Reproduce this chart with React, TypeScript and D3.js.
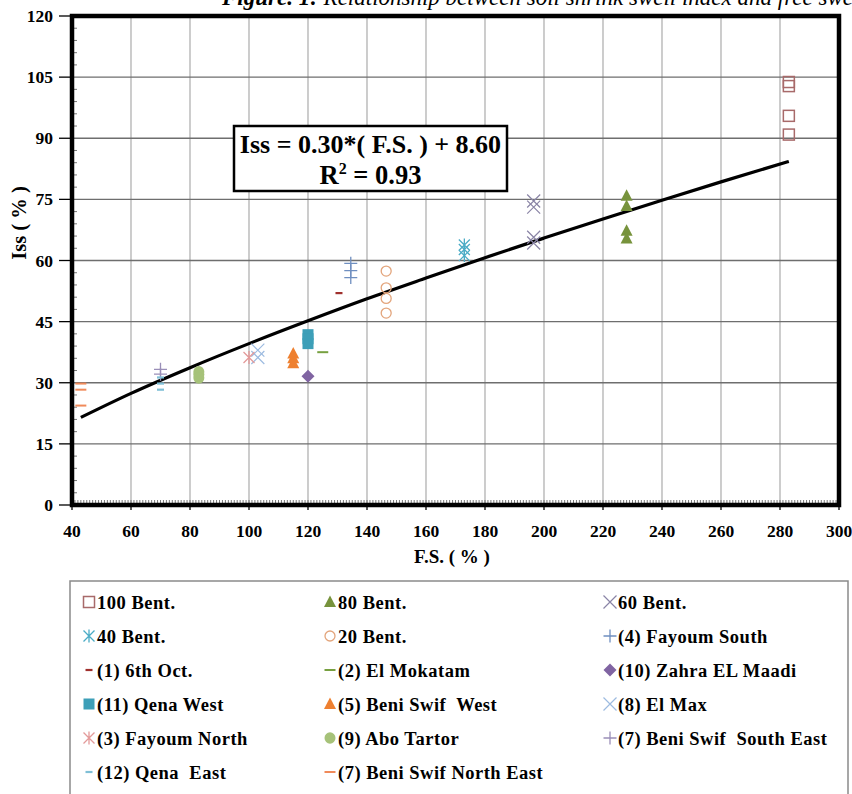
import React from "react";
import * as d3 from "d3";

// ---------- data ----------
const xTicks = [40, 60, 80, 100, 120, 140, 160, 180, 200, 220, 240, 260, 280, 300];
const yTicks = [0, 15, 30, 45, 60, 75, 90, 105, 120];

const bent100 = [[283, 103.8], [283, 102.8], [283, 95.5], [283, 90.9]];
const bent80 = [[228, 75.9], [228, 73.4], [228, 67.3], [228, 65.4]];
const bent60 = [[196.5, 74.6], [196.5, 73.1], [196.5, 65.7], [196.5, 64.3]];
const bent40 = [[173, 63.8], [173, 62.7], [173, 61.2]];
const bent20 = [[146.5, 57.4], [146.5, 53.3], [146.5, 50.7], [146.5, 47.1]];
const fayoumSouth = [[134.5, 59.3], [134.5, 57.5], [134.5, 55.8]];
const oct6 = [[130.5, 52]];
const elMokatam = [[125, 37.5]];
const zahraMaadi = [[120, 31.6]];
const qenaWest = [[120, 41.8], [120, 40.8], [120, 39.6]];
const beniSwifWest = [[115, 37.2], [115, 36], [115, 34.8]];
const elMax = [[103, 38], [103, 36.2]];
const fayoumNorth = [[100, 36.2]];
const aboTartor = [[83, 32.7], [83, 32], [83, 31.2]];
const beniSwifSE = [[70, 33.3], [70, 32.1]];
const qenaEast = [[70, 31.3], [70, 29.8], [70, 28.3]];
const beniSwifNE = [[43, 29.8], [43, 28.3], [43, 24.4]];

const trendX = [43, 60, 80, 100, 120, 140, 160, 180, 200, 220, 240, 260, 283];
const trendY = [21.5, 27.4, 33.7, 39.6, 45.2, 50.6, 55.7, 60.7, 65.5, 70.2, 74.8, 79.3, 84.3];

const seriesLabels = [
  "100 Bent.", "80 Bent.", "60 Bent.",
  "40 Bent.", "20 Bent.", "(4) Fayoum South",
  "(1) 6th Oct.", "(2) El Mokatam", "(10) Zahra EL Maadi",
  "(11) Qena West", "(5) Beni Swif  West", "(8) El Max",
  "(3) Fayoum North", "(9) Abo Tartor", "(7) Beni Swif  South East",
  "(12) Qena  East", "(7) Beni Swif North East",
];
const seriesData = [
  bent100, bent80, bent60,
  bent40, bent20, fayoumSouth,
  oct6, elMokatam, zahraMaadi,
  qenaWest, beniSwifWest, elMax,
  fayoumNorth, aboTartor, beniSwifSE,
  qenaEast, beniSwifNE,
];

// ---------- styles ----------
const seriesStyle = [
  { m: "squareOpen", c: "#a86a6a" },
  { m: "triangle", c: "#77933c" },
  { m: "x", c: "#8a84a6" },
  { m: "asterisk", c: "#4bacc6" },
  { m: "circleOpen", c: "#e3a57c" },
  { m: "plus", c: "#6f8fc0" },
  { m: "dashShort", c: "#a0302d" },
  { m: "dash", c: "#77a040" },
  { m: "diamond", c: "#8064a2" },
  { m: "square", c: "#3d9fb8" },
  { m: "triangle", c: "#ee8030" },
  { m: "x", c: "#9dbbe0" },
  { m: "asterisk", c: "#e39a9a" },
  { m: "circle", c: "#a6c279" },
  { m: "plus", c: "#9a8fb8" },
  { m: "dashShort", c: "#7fbfd6" },
  { m: "dash", c: "#f08a5a" },
];

const W = 852, H = 794;
const L = 72, R = 839, T = 16, B = 505;
const FONT = "'Liberation Serif', 'Times New Roman', serif";

function Marker({ m, c, x, y }: { m: string; c: string; x: number; y: number }) {
  const s = 5.5;
  switch (m) {
    case "squareOpen":
      return <rect x={x - 5.5} y={y - 5.5} width={11} height={11} fill="none" stroke={c} strokeWidth={1.5} />;
    case "square":
      return <rect x={x - 5.5} y={y - 5.5} width={11} height={11} fill={c} />;
    case "triangle":
      return <path d={`M${x},${y - 6.5}L${x + 6},${y + 5}L${x - 6},${y + 5}Z`} fill={c} />;
    case "diamond":
      return <path d={`M${x},${y - 6.5}L${x + 6.5},${y}L${x},${y + 6.5}L${x - 6.5},${y}Z`} fill={c} />;
    case "circle":
      return <ellipse cx={x} cy={y} rx={5.5} ry={5.8} fill={c} />;
    case "circleOpen":
      return <circle cx={x} cy={y} r={5} fill="none" stroke={c} strokeWidth={1.3} />;
    case "x":
      return (
        <path d={`M${x - s - 1},${y - s - 1}L${x + s + 1},${y + s + 1}M${x + s + 1},${y - s - 1}L${x - s - 1},${y + s + 1}`} stroke={c} strokeWidth={1.2} fill="none" />
      );
    case "asterisk":
      return (
        <path d={`M${x - s},${y - s}L${x + s},${y + s}M${x + s},${y - s}L${x - s},${y + s}M${x},${y - s - 1}L${x},${y + s + 1}`} stroke={c} strokeWidth={1.3} fill="none" />
      );
    case "plus":
      return (
        <path d={`M${x - s - 1},${y}L${x + s + 1},${y}M${x},${y - s - 1}L${x},${y + s + 1}`} stroke={c} strokeWidth={1.3} fill="none" />
      );
    case "dash":
      return <path d={`M${x - 5.5},${y}L${x + 5.5},${y}`} stroke={c} strokeWidth={2} />;
    case "dashShort":
      return <path d={`M${x - 3.5},${y}L${x + 3.5},${y}`} stroke={c} strokeWidth={2.2} />;
    default:
      return null;
  }
}

export default function App() {
  const xs = d3.scaleLinear().domain([40, 300]).range([L, R]);
  const ys = d3.scaleLinear().domain([0, 120]).range([B, T]);

  const line = d3
    .line<number>()
    .x((_, i) => xs(trendX[i]))
    .y((d) => ys(d))
    .curve(d3.curveMonotoneX);

  const xMinor = d3.range(40, 301, 1);
  const yMinor = d3.range(0, 121, 3).filter((v) => v % 15 !== 0);

  const legCols = [89, 330, 610];
  const legRows = [602, 636, 670, 704, 738, 772];

  return (
    <svg width={W} height={H} style={{ position: "absolute", left: 0, top: 0, background: "white" }} fontFamily={FONT}>
      <rect x={0} y={0} width={W} height={H} fill="white" />
      {/* title, clipped at the top edge as in the source */}
      <text x={222} y={4.5} fontSize={23} fontStyle="italic" fill="#000">
        <tspan fontWeight="bold">Figure. 1:</tspan>
        <tspan> Relationship between soil shrink swell index and free swell</tspan>
      </text>

      {/* vertical grid */}
      {xTicks.slice(1, -1).map((t) => (
        <line key={"vx" + t} x1={xs(t)} x2={xs(t)} y1={T} y2={B} stroke="#ababab" strokeWidth={1.2} />
      ))}
      {/* horizontal grid */}
      {yTicks.slice(1, -1).map((t) => (
        <line key={"hy" + t} x1={L} x2={R} y1={ys(t)} y2={ys(t)} stroke="#6e6e6e" strokeWidth={1.4} />
      ))}

      {/* minor ticks */}
      {xMinor.map((t) => (
        <line key={"mx" + t} x1={xs(t)} x2={xs(t)} y1={B} y2={B - 5} stroke="#555" strokeWidth={0.8} />
      ))}
      {yMinor.map((t) => (
        <line key={"my" + t} x1={L} x2={L + 5} y1={ys(t)} y2={ys(t)} stroke="#555" strokeWidth={0.8} />
      ))}

      {/* major ticks */}
      {yTicks.map((t) => (
        <line key={"ty" + t} x1={L - 13} x2={L} y1={ys(t)} y2={ys(t)} stroke="#000" strokeWidth={1.3} />
      ))}
      {xTicks.map((t) => (
        <line key={"tx" + t} x1={xs(t)} x2={xs(t)} y1={B} y2={B + 5} stroke="#000" strokeWidth={1.3} />
      ))}

      {/* frame */}
      <rect x={L} y={T} width={R - L} height={B - T} fill="none" stroke="#000" strokeWidth={4.5} />

      {/* tick labels */}
      {yTicks.map((t) => (
        <text key={"ly" + t} x={53} y={ys(t) + 6} fontSize={17.5} fontWeight="bold" textAnchor="end">
          {t}
        </text>
      ))}
      {xTicks.map((t) => (
        <text key={"lx" + t} x={xs(t)} y={537} fontSize={17.5} fontWeight="bold" textAnchor="middle">
          {t}
        </text>
      ))}

      {/* axis titles */}
      <text x={452} y={563} fontSize={19} fontWeight="bold" textAnchor="middle" style={{ whiteSpace: "pre" }}>
        F.S. ( % )
      </text>
      <text transform="translate(26,223) rotate(-90)" fontSize={20.5} fontWeight="bold" textAnchor="middle" style={{ whiteSpace: "pre" }}>
        Iss ( % )
      </text>

      {/* trend line */}
      <path d={line(trendY) || ""} fill="none" stroke="#000" strokeWidth={3.2} />

      {/* markers */}
      {seriesData.map((ser, si) =>
        ser.map((p, pi) => (
          <Marker key={`m${si}-${pi}`} m={seriesStyle[si].m} c={seriesStyle[si].c} x={xs(p[0])} y={ys(p[1])} />
        ))
      )}

      {/* equation box */}
      <rect x={234} y={126} width={273} height={65} fill="white" stroke="#000" strokeWidth={2.5} />
      <text x={370.5} y={152.5} fontSize={26} fontWeight="bold" textAnchor="middle" style={{ whiteSpace: "pre" }}>
        Iss = 0.30*( F.S. ) + 8.60
      </text>
      <text x={370.5} y={183.5} fontSize={26.5} fontWeight="bold" textAnchor="middle">
        R<tspan fontSize={16} dy={-10}>2</tspan>
        <tspan dy={10}> = 0.93</tspan>
      </text>

      {/* legend */}
      <rect x={70} y={581} width={778} height={240} fill="white" stroke="#8a8a8a" strokeWidth={1.5} />
      {seriesLabels.map((lab, i) => {
        const cx = legCols[i % 3];
        const cy = legRows[Math.floor(i / 3)];
        return (
          <g key={"lg" + i}>
            <Marker m={seriesStyle[i].m} c={seriesStyle[i].c} x={cx} y={cy} />
            <text x={cx + 8} y={cy + 6.5} fontSize={18.5} fontWeight="bold" letterSpacing={0.5} style={{ whiteSpace: "pre" }}>
              {lab}
            </text>
          </g>
        );
      })}
    </svg>
  );
}
